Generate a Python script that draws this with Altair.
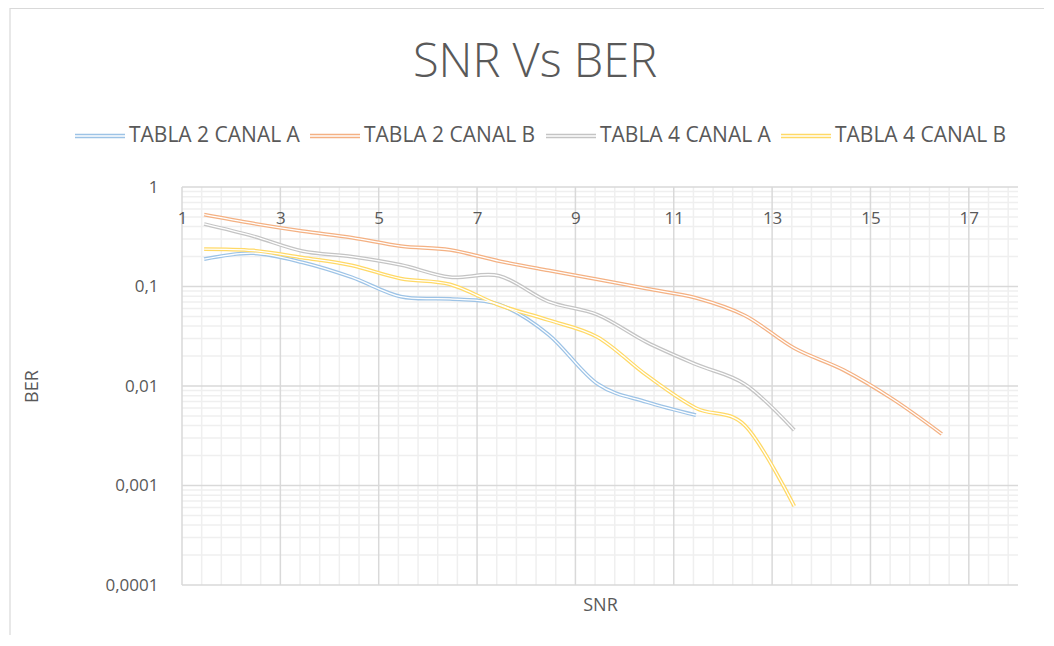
import altair as alt
import pandas as pd

# ---- data ----
series_names = ["TABLA 2 CANAL A", "TABLA 2 CANAL B", "TABLA 4 CANAL A", "TABLA 4 CANAL B"]
series_colors = ["#9DC3E6", "#F4B183", "#C4C4C4", "#FFD966"]

snr_t2a = [1.45, 2.45, 3.45, 4.45, 5.45, 6.45, 7.45, 8.45, 9.45, 10.45, 11.45]
ber_t2a = [0.188, 0.216, 0.175, 0.124, 0.079, 0.075, 0.066, 0.033, 0.0105, 0.0069, 0.0051]

snr_t2b = [1.45, 2.45, 3.45, 4.45, 5.45, 6.45, 7.45, 8.45, 9.45, 10.45, 11.45, 12.45, 13.45, 14.45, 15.45, 16.45]
ber_t2b = [0.527, 0.43, 0.36, 0.31, 0.255, 0.233, 0.18, 0.145, 0.118, 0.095, 0.077, 0.051, 0.024, 0.0145, 0.0074, 0.0033]

snr_t4a = [1.45, 2.45, 3.45, 4.45, 5.45, 6.45, 7.45, 8.45, 9.45, 10.45, 11.45, 12.45, 13.45]
ber_t4a = [0.425, 0.32, 0.227, 0.2, 0.165, 0.124, 0.128, 0.0705, 0.052, 0.0275, 0.0165, 0.0104, 0.0036]

snr_t4b = [1.45, 2.45, 3.45, 4.45, 5.45, 6.45, 7.45, 8.45, 9.45, 10.45, 11.45, 12.45, 13.45]
ber_t4b = [0.238, 0.23, 0.195, 0.163, 0.12, 0.105, 0.065, 0.046, 0.031, 0.0128, 0.006, 0.004, 0.00062]

x_ticks = [1, 3, 5, 7, 9, 11, 13, 15, 17]
y_ticks = [1, 0.1, 0.01, 0.001, 0.0001]

# ---- tables ----
rows = []
for name, xs, ys in zip(series_names,
                        [snr_t2a, snr_t2b, snr_t4a, snr_t4b],
                        [ber_t2a, ber_t2b, ber_t4a, ber_t4b]):
    for xv, yv in zip(xs, ys):
        rows.append({"series": name, "snr": xv, "ber": yv})
df = pd.DataFrame(rows)

x_minor = [round(1 + 0.4 * i, 4) for i in range(1, 43)]
x_minor = [v for v in x_minor if all(abs(v - t) > 1e-6 for t in x_ticks)]
y_minor = [m * 10.0 ** e for e in range(-4, 0) for m in range(2, 10)]

xscale = alt.Scale(domain=[1, 18], nice=False, zero=False)
yscale = alt.Scale(type="log", domain=[0.0001, 1], nice=False)

FONT = "Open Sans"
TXT = "#595959"

x_axis = alt.Axis(orient="bottom", values=x_ticks, offset=-398, domain=False, ticks=False, grid=False,
                  labelFont=FONT, labelFontSize=17, labelColor=TXT, labelPadding=31,
                  labelBaseline="middle", labelFlush=False, zindex=1,
                  title="SNR", titleFont=FONT, titleFontSize=18, titleFontWeight="normal",
                  titleColor=TXT, titleY=418, titleBaseline="middle")
y_axis = alt.Axis(orient="left", values=y_ticks, domain=False, ticks=False, grid=False,
                  labelFont=FONT, labelFontSize=17, labelColor=TXT, labelPadding=24, zindex=1,
                  labelExpr="replace(format(datum.value, '~g'), '.', ',')",
                  title="BER", titleFont=FONT, titleFontSize=18, titleFontWeight="normal",
                  titleColor=TXT, titleX=-150, titleY=199, titleAngle=-90,
                  titleAlign="center", titleBaseline="middle")

frame = alt.Chart(pd.DataFrame({"a": [0]})).mark_rect(
    filled=False, stroke="#D9D9D9", strokeWidth=1.2).encode(
    x=alt.value(-172), y=alt.value(-178.5), x2=alt.value(900), y2=alt.value(520))

vminor = alt.Chart(pd.DataFrame({"v": x_minor})).mark_rule(color="#EFEFEF", strokeWidth=1.5).encode(
    x=alt.X("v:Q", scale=xscale, axis=x_axis))
hminor = alt.Chart(pd.DataFrame({"v": y_minor})).mark_rule(color="#EFEFEF", strokeWidth=1.5).encode(
    y=alt.Y("v:Q", scale=yscale, axis=y_axis))
vmajor = alt.Chart(pd.DataFrame({"v": x_ticks})).mark_rule(color="#D9D9D9", strokeWidth=1.5).encode(
    x=alt.X("v:Q", scale=xscale, axis=x_axis))
hmajor = alt.Chart(pd.DataFrame({"v": y_ticks})).mark_rule(color="#D9D9D9", strokeWidth=1.5).encode(
    y=alt.Y("v:Q", scale=yscale, axis=y_axis))

legend = alt.Legend(orient="none", legendX=-108, legendY=-77, direction="horizontal", columns=4,
                    title=None, symbolType="M-1,-0.06H1M-1,0.06H1", symbolSize=2500,
                    symbolStrokeWidth=1.3, labelFont=FONT, labelFontSize=21, labelColor=TXT,
                    labelOffset=3, columnPadding=7, labelLimit=400)

colored = alt.Chart(df).mark_line(interpolate="cardinal", strokeWidth=3.8).encode(
    x=alt.X("snr:Q", scale=xscale, axis=x_axis),
    y=alt.Y("ber:Q", scale=yscale, axis=y_axis),
    color=alt.Color("series:N", scale=alt.Scale(domain=series_names, range=series_colors), legend=legend),
    order=alt.Order("snr:Q"),
)
white = alt.Chart(df).mark_line(interpolate="cardinal", strokeWidth=1.3, color="white").encode(
    x=alt.X("snr:Q", scale=xscale, axis=x_axis),
    y=alt.Y("ber:Q", scale=yscale, axis=y_axis),
    detail="series:N",
    order=alt.Order("snr:Q"),
)

chart = alt.layer(frame, vminor, hminor, vmajor, hmajor, colored, white).properties(
    width=836, height=398,
    title=alt.TitleParams("SNR Vs BER", font=FONT, fontSize=47, fontWeight=300, color=TXT,
                          anchor="middle", frame="group", dx=-65, offset=-79),
    autosize=alt.AutoSizeParams(type="none"),
    padding={"left": 174, "top": 179, "right": 26, "bottom": 50},
    background="white",
).configure_view(strokeWidth=0)

chart.save("out.html", embed_options={"renderer": "svg", "actions": False})
